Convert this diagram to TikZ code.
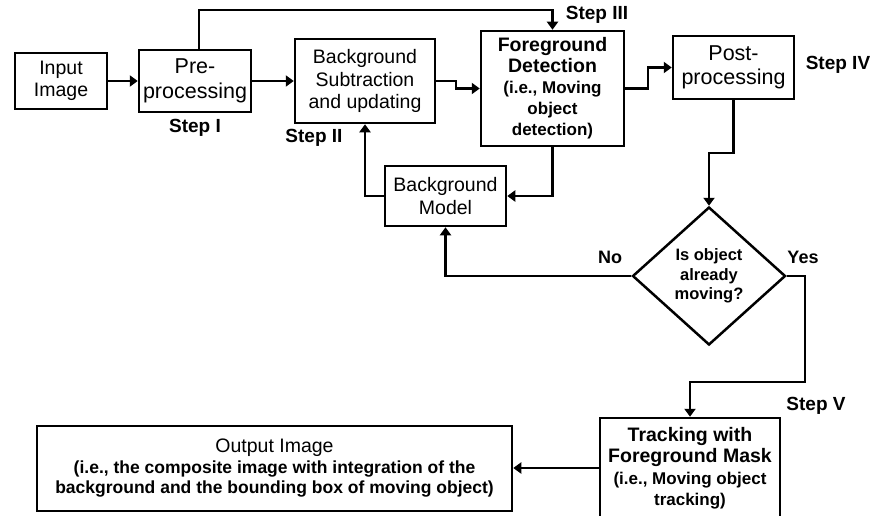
\documentclass[tikz,border=0pt]{standalone}
\usepackage{fontspec}
\setmainfont{Liberation Sans}
\usetikzlibrary{shapes.geometric,arrows.meta}
\begin{document}
\begin{tikzpicture}[x=1pt,y=-1pt,
  box/.style={draw, line width=2.5pt, align=center, inner sep=0pt},
  regtext/.style={font=\fontsize{19.5}{22.5}\selectfont},
  bigtext/.style={font=\fontsize{21.5}{24.5}\selectfont},
  steplbl/.style={font=\bfseries\fontsize{19}{22}\selectfont, inner sep=0pt},
  arr/.style={line width=2.5pt, -{Triangle[length=8pt,width=11pt]}},
  ln/.style={line width=2.5pt}]
\clip (0,0) rectangle (877,516);
\fill[white] (0,0) rectangle (877,516);

% boxes
\node[box, regtext, minimum width=92pt, minimum height=56pt] (inp) at (61,81) {Input\\Image};
\node[box, bigtext, minimum width=112pt, minimum height=62pt] (pre) at (195,81) {Pre-\\processing};
\node[box, regtext, minimum width=140pt, minimum height=84pt] (bgsub) at (365,81) {Background\\Subtraction\\and updating};
\node[box, font=\bfseries\fontsize{17}{21}\selectfont, minimum width=143pt, minimum height=115pt] (fg) at (552.5,88.5)
  {\fontsize{19.5}{21}\selectfont Foreground\\\fontsize{19.5}{21}\selectfont Detection\\(i.e., Moving\\object\\detection)};
\node[box, bigtext, minimum width=121pt, minimum height=63pt] (post) at (733.5,67.5) {Post-\\processing};
\node[box, regtext, minimum width=121pt, minimum height=60pt] (bgm) at (445.5,196) {Background\\Model};
\node[draw, diamond, line width=2.5pt, minimum width=153pt, minimum height=138pt, inner sep=0pt, align=center,
  font=\bfseries\fontsize{16.5}{19.5}\selectfont] (dia) at (709,276) {Is object\\already\\moving?};
\node[box, font=\bfseries\fontsize{17}{21.5}\selectfont, minimum width=180pt, minimum height=100pt] (track) at (690,468)
  {\fontsize{19.5}{21.5}\selectfont Tracking with\\\fontsize{19.5}{21.5}\selectfont Foreground Mask\\(i.e., Moving object\\tracking)};
\node[box, font=\bfseries\fontsize{17.5}{20.5}\selectfont, minimum width=475pt, minimum height=85pt] (out) at (274.5,468.5)
  {\mdseries\fontsize{19.5}{20.5}\selectfont Output Image\\(i.e., the composite image with integration of the\\background and the bounding box of moving object)};

% labels
\node[steplbl] (s1) at (195,128) {Step I};
\node[steplbl] (s2) at (314,138) {Step II};
\node[steplbl] (s3) at (597,15) {Step III};
\node[steplbl] (s4) at (838,65) {Step IV};
\node[steplbl] (s5) at (816,406) {Step V};
\node[steplbl, font=\bfseries\fontsize{18}{20}\selectfont] (no) at (610,257) {No};
\node[steplbl, font=\bfseries\fontsize{18}{20}\selectfont] (yes) at (803,257) {Yes};

% connectors
\coordinate (topr) at (552.5,10);
\coordinate (pd) at (733.5,153);
\coordinate (yd) at (805,382);
\coordinate (j1) at (456,81);
\coordinate (j2) at (648,88.5);

\draw[arr] (inp.east) -- (pre.east -| pre.west);
\draw[arr] (pre.east) -- (bgsub.west);
\draw[arr] (bgsub.east) -- (j1) |- (fg.west);
\draw[arr] (fg.east) -- (j2) |- (post.west);
\draw[arr] ([xshift=4pt]pre.north) |- (topr) -- (fg.north);
\draw[arr] (post.south) -- (pd) -| (dia.north);
\draw[arr] (fg.south) |- (bgm.east);
\draw[arr] (bgm.west) -| (bgsub.south);
\draw[arr] (dia.west) -| (bgm.south);
\draw[arr] (dia.east) -| (yd) -| (track.north);
\draw[arr] (track.west) -- (track.west -| out.east);
\end{tikzpicture}
\end{document}
